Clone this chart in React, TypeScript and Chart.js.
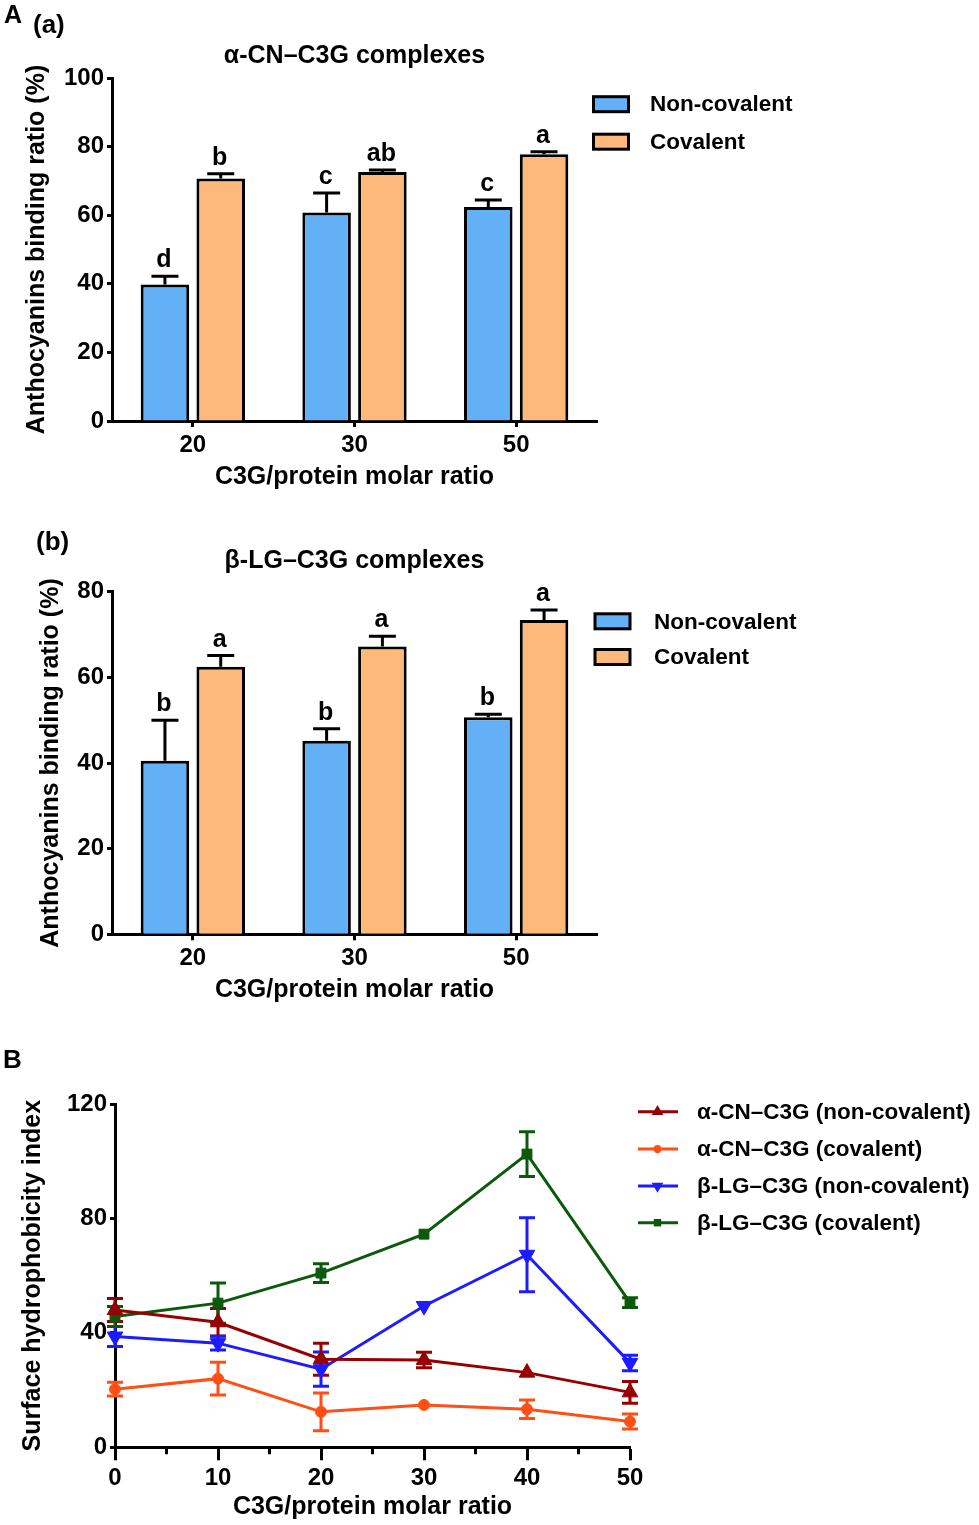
import React, { useEffect, useRef } from 'react';
import { Chart, registerables } from 'chart.js';

Chart.register(...registerables);

const FONT = '"Liberation Sans", Arial, Helvetica, sans-serif';

// ---------- Panel A: binding ratio bar charts ----------
const ratioCategories = ['20', '30', '50'];
const barSeriesLabels = ['Non-covalent', 'Covalent'];
const barColors = ['#64b0f6', '#fdb97c'];

// (a) α-CN–C3G complexes
const cnBarNonCovalent = [39.8, 60.8, 62.4];
const cnBarNonCovalentErr = [2.4, 5.7, 2.0];
const cnBarCovalent = [70.7, 72.6, 77.8];
const cnBarCovalentErr = [1.4, 0.6, 0.7];
const cnBarNonCovalentLetters = ['d', 'c', 'c'];
const cnBarCovalentLetters = ['b', 'ab', 'a'];

// (b) β-LG–C3G complexes
const lgBarNonCovalent = [40.5, 45.2, 50.7];
const lgBarNonCovalentErr = [9.5, 2.8, 0.7];
const lgBarCovalent = [62.5, 67.2, 73.4];
const lgBarCovalentErr = [2.6, 2.4, 2.3];
const lgBarNonCovalentLetters = ['b', 'b', 'b'];
const lgBarCovalentLetters = ['a', 'a', 'a'];

// ---------- Panel B: surface hydrophobicity ----------
const molarRatios = [0, 10, 20, 30, 40, 50];
const lineLabels = [
  'α-CN–C3G (non-covalent)',
  'α-CN–C3G (covalent)',
  'β-LG–C3G (non-covalent)',
  'β-LG–C3G (covalent)',
];
const lineColors = ['#960000', '#ff4f14', '#1c1cff', '#0b5a0b'];
const cnNonCovalent = [48.0, 43.7, 30.8, 30.5, 26.1, 19.2];
const cnNonCovalentErr = [4.0, 4.8, 5.6, 2.7, 0, 3.8];
const cnCovalent = [20.3, 24.0, 12.4, 14.8, 13.3, 9.0];
const cnCovalentErr = [2.4, 5.7, 6.6, 0, 3.2, 2.6];
const lgNonCovalent = [38.7, 36.4, 27.3, 49.4, 67.3, 29.5];
const lgNonCovalentErr = [3.5, 2.4, 6.0, 0, 12.9, 2.7];
const lgCovalent = [45.7, 50.4, 60.9, 74.5, 102.5, 50.6];
const lgCovalentErr = [3.5, 7.0, 3.3, 0, 7.8, 1.7];
const minorTicks = [5, 15, 25, 35, 45];

const AXIS_FONT = { family: FONT, size: 24, weight: 'bold' as const };
const TITLE_FONT = { family: FONT, size: 25, weight: 'bold' as const };

const barAnnotations = {
  id: 'barAnnotations',
  afterDatasetsDraw(chart: any) {
    const ctx = chart.ctx;
    const ys = chart.scales.y;
    chart.data.datasets.forEach((ds: any, i: number) => {
      const meta = chart.getDatasetMeta(i);
      meta.data.forEach((bar: any, j: number) => {
        const v = ds.data[j];
        const e = ds.errors[j];
        const x = bar.x;
        const y0 = ys.getPixelForValue(v);
        const y1 = ys.getPixelForValue(v + e);
        ctx.save();
        ctx.strokeStyle = '#000';
        ctx.lineWidth = 3;
        ctx.beginPath();
        ctx.moveTo(x, y0);
        ctx.lineTo(x, y1);
        ctx.moveTo(x - 13.5, y1);
        ctx.lineTo(x + 13.5, y1);
        ctx.stroke();
        ctx.fillStyle = '#000';
        ctx.font = `bold 25px ${FONT}`;
        ctx.textAlign = 'center';
        ctx.textBaseline = 'alphabetic';
        ctx.fillText(ds.letters[j], x - 1, y1 - 9);
        ctx.restore();
      });
    });
  },
};

function drawTexts(ctx: any, texts: any[]) {
  texts.forEach((t) => {
    ctx.save();
    ctx.fillStyle = '#000';
    ctx.font = `bold ${t.size}px ${FONT}`;
    ctx.textAlign = 'left';
    ctx.textBaseline = 'alphabetic';
    ctx.fillText(t.text, t.x, t.y);
    ctx.restore();
  });
}

function barDecor(p: any) {
  return {
    id: 'barDecor',
    afterDraw(chart: any) {
      const ctx = chart.ctx;
      drawTexts(ctx, p.texts);
      chart.data.datasets.forEach((ds: any, i: number) => {
        const cy = p.legendRows[i];
        ctx.save();
        ctx.fillStyle = ds.backgroundColor;
        ctx.strokeStyle = '#000';
        ctx.lineWidth = 3;
        ctx.fillRect(p.legendX + 1.5, cy - 7.5, 35, 15);
        ctx.strokeRect(p.legendX + 1.5, cy - 7.5, 35, 15);
        ctx.fillStyle = '#000';
        ctx.font = `bold 22.5px ${FONT}`;
        ctx.textAlign = 'left';
        ctx.textBaseline = 'middle';
        ctx.fillText(ds.label, p.legendTextX, cy + 1);
        ctx.restore();
      });
    },
  };
}

function makeBarConfig(p: any): any {
  return {
    type: 'bar',
    data: {
      labels: ratioCategories,
      datasets: [
        {
          label: barSeriesLabels[0],
          data: p.nonCov,
          errors: p.nonCovErr,
          letters: p.nonCovLetters,
          backgroundColor: barColors[0],
          borderColor: '#000',
          borderWidth: 3,
          barPercentage: 0.87,
          categoryPercentage: 0.69,
        },
        {
          label: barSeriesLabels[1],
          data: p.cov,
          errors: p.covErr,
          letters: p.covLetters,
          backgroundColor: barColors[1],
          borderColor: '#000',
          borderWidth: 3,
          barPercentage: 0.87,
          categoryPercentage: 0.69,
        },
      ],
    },
    options: {
      responsive: false,
      animation: false,
      devicePixelRatio: 1,
      events: [],
      layout: { padding: { top: 0, left: 0, right: 382, bottom: 0 } },
      plugins: {
        legend: { display: false },
        tooltip: { enabled: false },
        title: {
          display: true,
          text: p.title,
          fullSize: false,
          color: '#000',
          font: TITLE_FONT,
          padding: { top: p.titlePadTop, bottom: p.titlePadBottom },
        },
      },
      scales: {
        x: {
          grid: {
            display: true,
            drawOnChartArea: false,
            drawTicks: true,
            tickLength: 6,
            tickWidth: 3,
            tickColor: '#000',
            offset: false,
          },
          border: { display: true, color: '#000', width: 3 },
          ticks: { color: '#000', font: AXIS_FONT, padding: 4, maxRotation: 0 },
          title: {
            display: true,
            text: 'C3G/protein molar ratio',
            color: '#000',
            font: TITLE_FONT,
            padding: { top: 0, bottom: 8 },
          },
          afterFit: (s: any) => {
            s.height = p.xAxisHeight;
          },
        },
        y: {
          min: 0,
          max: p.yMax,
          ticks: { stepSize: 20, color: '#000', font: AXIS_FONT, padding: 3 },
          grid: {
            drawOnChartArea: false,
            tickLength: 5,
            tickWidth: 3,
            tickColor: '#000',
          },
          border: { display: true, color: '#000', width: 3 },
          title: {
            display: true,
            text: 'Anthocyanins binding ratio (%)',
            color: '#000',
            font: TITLE_FONT,
            padding: { top: p.yTitlePad, bottom: 0 },
          },
          afterFit: (s: any) => {
            s.width = 112;
          },
        },
      },
    },
    plugins: [barAnnotations, barDecor(p)],
  };
}

const panelA = {
  title: 'α-CN–C3G complexes',
  nonCov: cnBarNonCovalent,
  nonCovErr: cnBarNonCovalentErr,
  nonCovLetters: cnBarNonCovalentLetters,
  cov: cnBarCovalent,
  covErr: cnBarCovalentErr,
  covLetters: cnBarCovalentLetters,
  yMax: 100,
  titlePadTop: 41.3,
  titlePadBottom: 6.7,
  xAxisHeight: 79,
  yTitlePad: 22,
  legendX: 592,
  legendTextX: 650,
  legendRows: [104.2, 141.7],
  texts: [
    { text: 'A', x: 4, y: 23, size: 25 },
    { text: '(a)', x: 33, y: 33, size: 26 },
  ],
};

const panelB = {
  title: 'β-LG–C3G complexes',
  nonCov: lgBarNonCovalent,
  nonCovErr: lgBarNonCovalentErr,
  nonCovLetters: lgBarNonCovalentLetters,
  cov: lgBarCovalent,
  covErr: lgBarCovalentErr,
  covLetters: lgBarCovalentLetters,
  yMax: 80,
  titlePadTop: 33.3,
  titlePadBottom: 15.4,
  xAxisHeight: 78.7,
  yTitlePad: 35.7,
  legendX: 593.5,
  legendTextX: 654,
  legendRows: [108.3, 144],
  texts: [{ text: '(b)', x: 36, y: 37, size: 26 }],
};

const lineSeries = [cnNonCovalent, cnCovalent, lgNonCovalent, lgCovalent];
const lineErrors = [cnNonCovalentErr, cnCovalentErr, lgNonCovalentErr, lgCovalentErr];
const pointStyles = ['triangle', 'circle', 'triangle', 'rect'];
const pointRotations = [0, 0, 180, 0];
const pointRadii = [9, 5.5, 9, 7];

function markerPath(ctx: any, style: string, rotation: number, r: number, x: number, y: number) {
  ctx.beginPath();
  if (style === 'circle') {
    ctx.arc(x, y, r, 0, Math.PI * 2);
  } else if (style === 'rect') {
    const s = r * Math.SQRT1_2;
    ctx.rect(x - s, y - s, 2 * s, 2 * s);
  } else {
    let rad = (rotation * Math.PI) / 180;
    for (let k = 0; k < 3; k++) {
      const px = x + Math.sin(rad) * r;
      const py = y - Math.cos(rad) * r;
      if (k === 0) ctx.moveTo(px, py);
      else ctx.lineTo(px, py);
      rad += (2 * Math.PI) / 3;
    }
    ctx.closePath();
  }
}

const lineErrorBars = {
  id: 'lineErrorBars',
  beforeDatasetsDraw(chart: any) {
    const ctx = chart.ctx;
    const ys = chart.scales.y;
    chart.data.datasets.forEach((ds: any, i: number) => {
      const meta = chart.getDatasetMeta(i);
      meta.data.forEach((pt: any, j: number) => {
        const e = ds.errors[j];
        if (!e) return;
        const v = ds.data[j].y;
        const x = pt.x;
        const y1 = ys.getPixelForValue(v + e);
        const y2 = ys.getPixelForValue(v - e);
        ctx.save();
        ctx.strokeStyle = ds.borderColor;
        ctx.lineWidth = 3;
        ctx.beginPath();
        ctx.moveTo(x, y1);
        ctx.lineTo(x, y2);
        ctx.moveTo(x - 8, y1);
        ctx.lineTo(x + 8, y1);
        ctx.moveTo(x - 8, y2);
        ctx.lineTo(x + 8, y2);
        ctx.stroke();
        ctx.restore();
      });
    });
  },
};

const lineDecor = {
  id: 'lineDecor',
  afterDraw(chart: any) {
    const ctx = chart.ctx;
    const xs = chart.scales.x;
    const bottom = chart.chartArea.bottom;
    ctx.save();
    ctx.strokeStyle = '#000';
    ctx.lineWidth = 3;
    ctx.beginPath();
    minorTicks.forEach((v) => {
      const x = xs.getPixelForValue(v);
      ctx.moveTo(x, bottom);
      ctx.lineTo(x, bottom + 7);
    });
    ctx.stroke();
    ctx.restore();
    drawTexts(ctx, [{ text: 'B', x: 3, y: 48, size: 26 }]);
    const rows = [91.7, 129, 166, 202.7];
    chart.data.datasets.forEach((ds: any, i: number) => {
      const cy = rows[i];
      ctx.save();
      ctx.strokeStyle = ds.borderColor;
      ctx.fillStyle = ds.borderColor;
      ctx.lineWidth = 3;
      ctx.beginPath();
      ctx.moveTo(638, cy);
      ctx.lineTo(678, cy);
      ctx.stroke();
      markerPath(ctx, ds.pointStyle, ds.pointRotation, ds.pointRadius * 0.75, 657.5, cy);
      ctx.fill();
      ctx.fillStyle = '#000';
      ctx.font = `bold 22.5px ${FONT}`;
      ctx.textAlign = 'left';
      ctx.textBaseline = 'middle';
      ctx.fillText(ds.label, 697, cy + 1);
      ctx.restore();
    });
  },
};

function makeLineConfig(): any {
  return {
    type: 'line',
    data: {
      datasets: lineSeries.map((vals, i) => ({
        label: lineLabels[i],
        data: molarRatios.map((x, j) => ({ x, y: vals[j] })),
        errors: lineErrors[i],
        borderColor: lineColors[i],
        backgroundColor: lineColors[i],
        borderWidth: 3,
        pointStyle: pointStyles[i],
        pointRotation: pointRotations[i],
        pointRadius: pointRadii[i],
        pointBorderWidth: 1,
        pointBackgroundColor: lineColors[i],
        pointBorderColor: lineColors[i],
        tension: 0,
        clip: false,
      })),
    },
    options: {
      responsive: false,
      animation: false,
      devicePixelRatio: 1,
      events: [],
      layout: { padding: { top: 84, left: 0, right: 349, bottom: 0 } },
      plugins: {
        legend: { display: false },
        tooltip: { enabled: false },
        title: { display: false },
      },
      scales: {
        x: {
          type: 'linear',
          min: 0,
          max: 50,
          grid: {
            display: true,
            drawOnChartArea: false,
            drawTicks: true,
            tickLength: 13,
            tickWidth: 3,
            tickColor: '#000',
          },
          border: { display: true, color: '#000', width: 3 },
          ticks: { stepSize: 10, color: '#000', font: AXIS_FONT, padding: 4, maxRotation: 0 },
          title: {
            display: true,
            text: 'C3G/protein molar ratio',
            color: '#000',
            font: TITLE_FONT,
            padding: { top: 0, bottom: 3 },
          },
          afterFit: (s: any) => {
            s.height = 77.7;
          },
        },
        y: {
          min: 0,
          max: 120,
          ticks: { stepSize: 40, color: '#000', font: AXIS_FONT, padding: 3 },
          grid: {
            drawOnChartArea: false,
            tickLength: 5,
            tickWidth: 3,
            tickColor: '#000',
          },
          border: { display: true, color: '#000', width: 3 },
          title: {
            display: true,
            text: 'Surface hydrophobicity index',
            color: '#000',
            font: TITLE_FONT,
            padding: { top: 18.5, bottom: 0 },
          },
          afterFit: (s: any) => {
            s.width = 115;
          },
        },
      },
    },
    plugins: [lineErrorBars, lineDecor],
  };
}

export default function App() {
  const refA = useRef<HTMLCanvasElement>(null);
  const refB = useRef<HTMLCanvasElement>(null);
  const refC = useRef<HTMLCanvasElement>(null);

  useEffect(() => {
    const charts = [
      new Chart(refA.current as HTMLCanvasElement, makeBarConfig(panelA)),
      new Chart(refB.current as HTMLCanvasElement, makeBarConfig(panelB)),
      new Chart(refC.current as HTMLCanvasElement, makeLineConfig()),
    ];
    return () => charts.forEach((c) => c.destroy());
  }, []);

  return (
    <div
      style={{
        position: 'absolute',
        left: 0,
        top: 0,
        width: 979,
        height: 1525,
        background: '#fff',
        overflow: 'hidden',
      }}
    >
      <canvas ref={refA} width={979} height={500} style={{ position: 'absolute', left: 0, top: 0 }} />
      <canvas ref={refB} width={979} height={500} style={{ position: 'absolute', left: 0, top: 513 }} />
      <canvas ref={refC} width={979} height={505} style={{ position: 'absolute', left: 0, top: 1020 }} />
    </div>
  );
}
